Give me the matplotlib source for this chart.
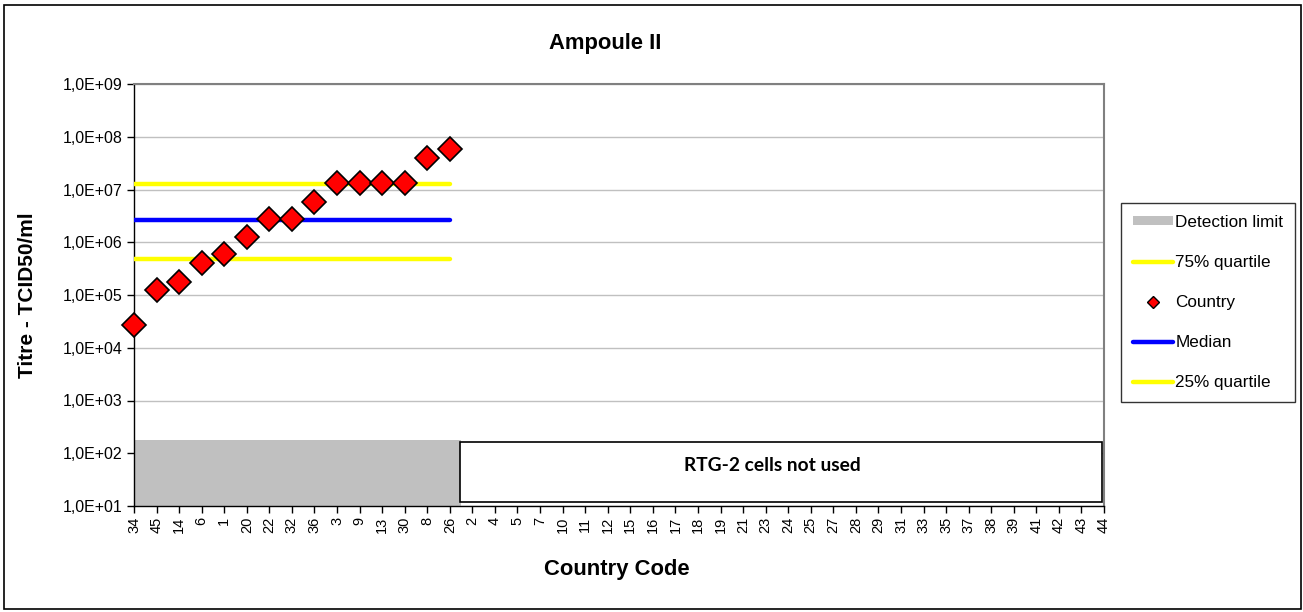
import numpy as np
import matplotlib
matplotlib.use("Agg")
import matplotlib.pyplot as plt
from matplotlib.patches import Rectangle, Patch
from matplotlib.lines import Line2D
from matplotlib.ticker import FixedLocator, FuncFormatter, NullLocator

plt.rcParams['font.family'] = ['Liberation Sans', 'DejaVu Sans']

# country codes on the x axis (sorted by titre, then the ones not tested)
countries = ['34', '45', '14', '6', '1', '20', '22', '32', '36', '3', '9', '13', '30', '8', '26',
             '2', '4', '5', '7', '10', '11', '12', '15', '16', '17', '18', '19', '21', '23', '24',
             '25', '27', '28', '29', '31', '33', '35', '37', '38', '39', '41', '42', '43', '44']

# titres of the countries that reported (TCID50/ml)
titres = [2.7e4, 1.25e5, 1.8e5, 4.0e5, 5.9e5, 1.28e6, 2.7e6, 2.7e6, 5.9e6,
          1.3e7, 1.3e7, 1.3e7, 1.3e7, 3.9e7, 5.8e7]

q75 = 1.27e7
median = 2.65e6
q25 = 4.8e5
detection_limit = 180

fig = plt.figure(figsize=(13.03, 6.12), dpi=100)
ax = fig.add_axes([134/1303, 1-506/612, 970/1303, 422/612])

x = np.arange(len(countries))
n = len(titres)
xr = x[:n]

# detection limit area
ax.fill_between([0, n - 0.5], 10, detection_limit, color='#c0c0c0', lw=0, zorder=1,
                label='Detection limit')

ax.plot([0, n - 1], [q75, q75], color='#ffff00', lw=3.2, solid_capstyle='round', zorder=3,
        label='75% quartile')
ax.plot([0, n - 1], [median, median], color='#0000ff', lw=3.2, solid_capstyle='round', zorder=3,
        label='Median')
ax.plot([0, n - 1], [q25, q25], color='#ffff00', lw=3.2, solid_capstyle='round', zorder=3,
        label='25% quartile')
ax.plot(xr, titres, ls='none', marker='D', ms=12, mfc='#ff0000', mec='black', mew=1.2,
        zorder=5, clip_on=False, label='Country')

ax.set_yscale('log')
ax.set_ylim(10, 1e9)
ax.set_xlim(0, len(countries) - 1)

ax.yaxis.set_major_locator(FixedLocator([10.0**k for k in range(1, 10)]))
ax.yaxis.set_minor_locator(NullLocator())
ax.yaxis.set_major_formatter(FuncFormatter(lambda v, p: "1,0E+%02d" % int(round(np.log10(v)))))
ax.set_xticks(x)
ax.set_xticklabels(countries, rotation=90, fontsize=10.5)
ax.tick_params(axis='y', labelsize=11.5, length=5, width=1, direction='out')
ax.tick_params(axis='x', length=5, width=1, direction='out', pad=3)

ax.grid(axis='y', color='#c0c0c0', lw=1, zorder=0)
ax.set_axisbelow(True)
for s in ['top', 'right']:
    ax.spines[s].set_color('#808080')
    ax.spines[s].set_linewidth(1.5)
for s in ['left', 'bottom']:
    ax.spines[s].set_color('black')
    ax.spines[s].set_linewidth(1)

# box for countries not tested
ax.add_patch(Rectangle((0.336, 0.0095), 0.662, 0.143, transform=ax.transAxes,
                       fc='white', ec='black', lw=1.2, zorder=6))
ax.text(0.658, 0.095, 'RTG-2 cells not used', transform=ax.transAxes, ha='center',
        va='center', fontsize=13.8, fontweight='bold', family=['Lato', 'DejaVu Sans'], zorder=7)

fig.text(605/1303, 1-43/612, 'Ampoule II', ha='center', va='center', fontsize=15.8,
         fontweight='bold')
fig.text(617/1303, 1-569/612, 'Country Code', ha='center', va='center', fontsize=15.8,
         fontweight='bold')
fig.text(28/1303, 1-295/612, 'Titre - TCID50/ml', ha='center', va='center', fontsize=15,
         fontweight='bold', rotation=90)

handles = [Patch(fc='#c0c0c0', ec='none'),
           Line2D([], [], color='#ffff00', lw=3.2, solid_capstyle='round'),
           Line2D([], [], ls='none', marker='D', ms=6, mfc='#ff0000', mec='black', mew=1),
           Line2D([], [], color='#0000ff', lw=3.2, solid_capstyle='round'),
           Line2D([], [], color='#ffff00', lw=3.2, solid_capstyle='round')]
labels = ['Detection limit', '75% quartile', 'Country', 'Median', '25% quartile']
leg = fig.legend(handles, labels, loc='upper left', bbox_to_anchor=(1121/1303, 1-203/612),
                 fontsize=12.3, frameon=True, fancybox=False, edgecolor='black',
                 labelspacing=1.47, handlelength=2.35, handleheight=0.45, handletextpad=0.12,
                 borderpad=0.7, borderaxespad=0)
leg.get_frame().set_linewidth(1)

# chart border
fig.patches.append(Rectangle((4/1303, 3/612), 1297/1303, 604/612, transform=fig.transFigure,
                             fill=False, ec='black', lw=1.2))

fig.savefig('out.png', dpi=100)
